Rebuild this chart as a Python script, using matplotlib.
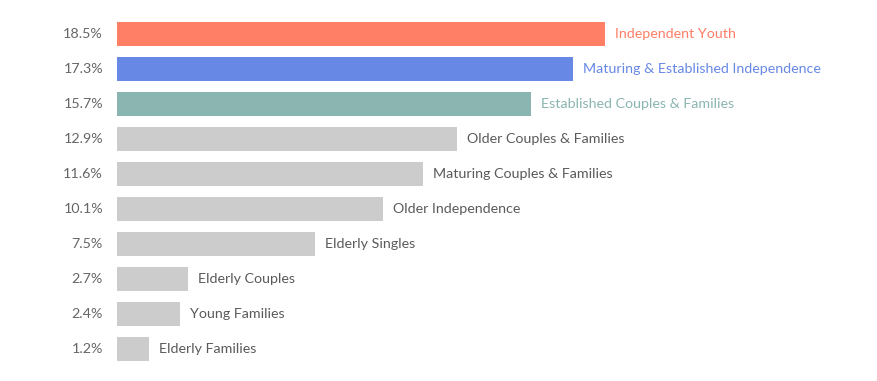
import matplotlib
matplotlib.use("Agg")
import matplotlib.pyplot as plt

segments = ["Independent Youth", "Maturing & Established Independence",
            "Established Couples & Families", "Older Couples & Families",
            "Maturing Couples & Families", "Older Independence",
            "Elderly Singles", "Elderly Couples", "Young Families",
            "Elderly Families"]
shares = [18.5, 17.3, 15.7, 12.9, 11.6, 10.1, 7.5, 2.7, 2.4, 1.2]
colors = ["#ff7f66", "#6888e5", "#8bb5b0"] + ["#cccccc"] * 7
text_colors = ["#ff7f66", "#6888e5", "#8bb5b0"] + ["#5a5a5a"] * 7

plt.rcParams['font.family'] = ['Lato', 'DejaVu Sans']

fig = plt.figure(figsize=(8.78, 3.81), dpi=100)
ax = fig.add_axes([117 / 878, 14.5 / 381, 1 - 117 / 878, 350 / 381])

pos = list(range(len(shares)))
ax.barh(pos, shares, height=0.71, color=colors)
ax.set_ylim(len(shares) - 0.5, -0.5)
ax.set_xlim(0, 761 / 26.38)

for i, (v, name) in enumerate(zip(shares, segments)):
    ax.annotate(name, (v, i), xytext=(10, 0), textcoords="offset pixels",
                va="center", ha="left", fontsize=10.3, color=text_colors[i])
    ax.annotate(f"{v}%", (0, i), xytext=(-14, 0), textcoords="offset pixels",
                va="center", ha="right", fontsize=10.3, color="#666666")

ax.axis("off")
fig.savefig("out.png", dpi=100)
